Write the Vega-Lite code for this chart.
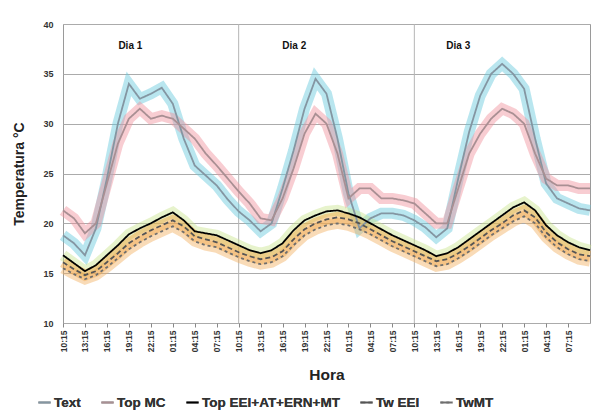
{
  "$schema": "https://vega.github.io/schema/vega-lite/v6.json",
  "width": 527,
  "height": 299,
  "autosize": {"type": "none"},
  "padding": {"left": 63, "top": 24, "right": 5, "bottom": 89},
  "background": "white",
  "config": {
    "font": "Liberation Sans",
    "view": {"stroke": "#9a9a9a", "strokeWidth": 1},
    "axis": {"labelFont": "Liberation Sans", "titleFont": "Liberation Sans", "labelFontWeight": "bold", "titleFontWeight": "bold", "labelColor": "#333", "titleColor": "#222", "domain": false, "tickColor": "#888"},
    "axisX": {"labelOverlap": false, "labelFlush": false},
    "legend": {"labelFont": "Liberation Sans", "labelFontWeight": "bold", "labelFontSize": 13.5, "labelColor": "#333", "orient": "none", "legendX": -26, "legendY": 371, "direction": "horizontal", "columns": 5, "symbolType": "stroke", "symbolStrokeWidth": 2, "symbolSize": 150, "columnPadding": 16, "labelOffset": 2}
  },
  "resolve": {"scale": {"color": "independent"}, "legend": {"color": "independent"}},
  "datasets": {
    "temps": [
      {"s":"Text","t":0,"v":18.8},{"s":"Text","t":1.5,"v":18.0},{"s":"Text","t":3,"v":16.8},{"s":"Text","t":4.5,"v":19.5},{"s":"Text","t":6,"v":24.5},{"s":"Text","t":7.5,"v":30.0},{"s":"Text","t":9,"v":34.0},{"s":"Text","t":10.5,"v":32.5},{"s":"Text","t":12,"v":33.0},{"s":"Text","t":13.5,"v":33.6},{"s":"Text","t":15,"v":32.0},{"s":"Text","t":16.5,"v":28.5},{"s":"Text","t":18,"v":25.8},{"s":"Text","t":19.5,"v":24.8},{"s":"Text","t":21,"v":23.8},{"s":"Text","t":22.5,"v":22.4},{"s":"Text","t":24,"v":21.2},{"s":"Text","t":25.5,"v":20.3},{"s":"Text","t":27,"v":19.2},{"s":"Text","t":28.5,"v":20.0},{"s":"Text","t":30,"v":23.5},{"s":"Text","t":31.5,"v":27.3},{"s":"Text","t":33,"v":31.5},{"s":"Text","t":34.5,"v":34.5},{"s":"Text","t":36,"v":33.0},{"s":"Text","t":37.5,"v":28.5},{"s":"Text","t":39,"v":23.0},{"s":"Text","t":40.5,"v":19.5},{"s":"Text","t":42,"v":20.5},{"s":"Text","t":43.5,"v":21.0},{"s":"Text","t":45,"v":21.0},{"s":"Text","t":46.5,"v":20.8},{"s":"Text","t":48,"v":20.3},{"s":"Text","t":49.5,"v":19.6},{"s":"Text","t":51,"v":18.6},{"s":"Text","t":52.5,"v":19.5},{"s":"Text","t":54,"v":24.5},{"s":"Text","t":55.5,"v":29.2},{"s":"Text","t":57,"v":32.8},{"s":"Text","t":58.5,"v":35.0},{"s":"Text","t":60,"v":36.0},{"s":"Text","t":61.5,"v":35.0},{"s":"Text","t":63,"v":33.5},{"s":"Text","t":64.5,"v":28.5},{"s":"Text","t":66,"v":24.0},{"s":"Text","t":67.5,"v":22.5},{"s":"Text","t":69,"v":22.0},{"s":"Text","t":70.5,"v":21.5},{"s":"Text","t":72,"v":21.3},
      {"s":"Top MC","t":0,"v":21.3},{"s":"Top MC","t":1.5,"v":20.5},{"s":"Top MC","t":3,"v":19.0},{"s":"Top MC","t":4.5,"v":20.0},{"s":"Top MC","t":6,"v":24.0},{"s":"Top MC","t":7.5,"v":28.0},{"s":"Top MC","t":9,"v":30.5},{"s":"Top MC","t":10.5,"v":31.5},{"s":"Top MC","t":12,"v":30.5},{"s":"Top MC","t":13.5,"v":30.8},{"s":"Top MC","t":15,"v":30.5},{"s":"Top MC","t":16.5,"v":29.5},{"s":"Top MC","t":18,"v":28.5},{"s":"Top MC","t":19.5,"v":27.0},{"s":"Top MC","t":21,"v":25.8},{"s":"Top MC","t":22.5,"v":24.5},{"s":"Top MC","t":24,"v":23.2},{"s":"Top MC","t":25.5,"v":22.0},{"s":"Top MC","t":27,"v":20.5},{"s":"Top MC","t":28.5,"v":20.3},{"s":"Top MC","t":30,"v":22.5},{"s":"Top MC","t":31.5,"v":25.5},{"s":"Top MC","t":33,"v":29.0},{"s":"Top MC","t":34.5,"v":31.0},{"s":"Top MC","t":36,"v":30.0},{"s":"Top MC","t":37.5,"v":27.0},{"s":"Top MC","t":39,"v":22.5},{"s":"Top MC","t":40.5,"v":23.5},{"s":"Top MC","t":42,"v":23.5},{"s":"Top MC","t":43.5,"v":22.5},{"s":"Top MC","t":45,"v":22.5},{"s":"Top MC","t":46.5,"v":22.3},{"s":"Top MC","t":48,"v":22.0},{"s":"Top MC","t":49.5,"v":21.0},{"s":"Top MC","t":51,"v":20.0},{"s":"Top MC","t":52.5,"v":20.0},{"s":"Top MC","t":54,"v":23.5},{"s":"Top MC","t":55.5,"v":27.0},{"s":"Top MC","t":57,"v":29.0},{"s":"Top MC","t":58.5,"v":30.5},{"s":"Top MC","t":60,"v":31.5},{"s":"Top MC","t":61.5,"v":31.0},{"s":"Top MC","t":63,"v":30.0},{"s":"Top MC","t":64.5,"v":27.0},{"s":"Top MC","t":66,"v":24.5},{"s":"Top MC","t":67.5,"v":23.8},{"s":"Top MC","t":69,"v":23.8},{"s":"Top MC","t":70.5,"v":23.5},{"s":"Top MC","t":72,"v":23.5},
      {"s":"Top EEI+AT+ERN+MT","t":0,"v":16.8},{"s":"Top EEI+AT+ERN+MT","t":1.5,"v":16.0},{"s":"Top EEI+AT+ERN+MT","t":3,"v":15.2},{"s":"Top EEI+AT+ERN+MT","t":4.5,"v":15.8},{"s":"Top EEI+AT+ERN+MT","t":6,"v":16.8},{"s":"Top EEI+AT+ERN+MT","t":7.5,"v":17.8},{"s":"Top EEI+AT+ERN+MT","t":9,"v":18.9},{"s":"Top EEI+AT+ERN+MT","t":10.5,"v":19.5},{"s":"Top EEI+AT+ERN+MT","t":12,"v":20.0},{"s":"Top EEI+AT+ERN+MT","t":13.5,"v":20.6},{"s":"Top EEI+AT+ERN+MT","t":15,"v":21.1},{"s":"Top EEI+AT+ERN+MT","t":16.5,"v":20.3},{"s":"Top EEI+AT+ERN+MT","t":18,"v":19.2},{"s":"Top EEI+AT+ERN+MT","t":19.5,"v":19.0},{"s":"Top EEI+AT+ERN+MT","t":21,"v":18.8},{"s":"Top EEI+AT+ERN+MT","t":22.5,"v":18.3},{"s":"Top EEI+AT+ERN+MT","t":24,"v":17.8},{"s":"Top EEI+AT+ERN+MT","t":25.5,"v":17.3},{"s":"Top EEI+AT+ERN+MT","t":27,"v":17.0},{"s":"Top EEI+AT+ERN+MT","t":28.5,"v":17.3},{"s":"Top EEI+AT+ERN+MT","t":30,"v":18.0},{"s":"Top EEI+AT+ERN+MT","t":31.5,"v":19.3},{"s":"Top EEI+AT+ERN+MT","t":33,"v":20.3},{"s":"Top EEI+AT+ERN+MT","t":34.5,"v":20.8},{"s":"Top EEI+AT+ERN+MT","t":36,"v":21.2},{"s":"Top EEI+AT+ERN+MT","t":37.5,"v":21.3},{"s":"Top EEI+AT+ERN+MT","t":39,"v":21.0},{"s":"Top EEI+AT+ERN+MT","t":40.5,"v":20.6},{"s":"Top EEI+AT+ERN+MT","t":42,"v":20.0},{"s":"Top EEI+AT+ERN+MT","t":43.5,"v":19.4},{"s":"Top EEI+AT+ERN+MT","t":45,"v":18.8},{"s":"Top EEI+AT+ERN+MT","t":46.5,"v":18.3},{"s":"Top EEI+AT+ERN+MT","t":48,"v":17.8},{"s":"Top EEI+AT+ERN+MT","t":49.5,"v":17.3},{"s":"Top EEI+AT+ERN+MT","t":51,"v":16.7},{"s":"Top EEI+AT+ERN+MT","t":52.5,"v":17.0},{"s":"Top EEI+AT+ERN+MT","t":54,"v":17.6},{"s":"Top EEI+AT+ERN+MT","t":55.5,"v":18.4},{"s":"Top EEI+AT+ERN+MT","t":57,"v":19.2},{"s":"Top EEI+AT+ERN+MT","t":58.5,"v":20.0},{"s":"Top EEI+AT+ERN+MT","t":60,"v":20.8},{"s":"Top EEI+AT+ERN+MT","t":61.5,"v":21.6},{"s":"Top EEI+AT+ERN+MT","t":63,"v":22.1},{"s":"Top EEI+AT+ERN+MT","t":64.5,"v":21.3},{"s":"Top EEI+AT+ERN+MT","t":66,"v":19.8},{"s":"Top EEI+AT+ERN+MT","t":67.5,"v":18.8},{"s":"Top EEI+AT+ERN+MT","t":69,"v":18.1},{"s":"Top EEI+AT+ERN+MT","t":70.5,"v":17.6},{"s":"Top EEI+AT+ERN+MT","t":72,"v":17.3},
      {"s":"Tw EEI","t":0,"v":16.1},{"s":"Tw EEI","t":1.5,"v":15.4},{"s":"Tw EEI","t":3,"v":14.8},{"s":"Tw EEI","t":4.5,"v":15.2},{"s":"Tw EEI","t":6,"v":16.1},{"s":"Tw EEI","t":7.5,"v":17.0},{"s":"Tw EEI","t":9,"v":18.0},{"s":"Tw EEI","t":10.5,"v":18.7},{"s":"Tw EEI","t":12,"v":19.3},{"s":"Tw EEI","t":13.5,"v":19.8},{"s":"Tw EEI","t":15,"v":20.3},{"s":"Tw EEI","t":16.5,"v":19.7},{"s":"Tw EEI","t":18,"v":18.7},{"s":"Tw EEI","t":19.5,"v":18.4},{"s":"Tw EEI","t":21,"v":18.1},{"s":"Tw EEI","t":22.5,"v":17.6},{"s":"Tw EEI","t":24,"v":17.1},{"s":"Tw EEI","t":25.5,"v":16.7},{"s":"Tw EEI","t":27,"v":16.4},{"s":"Tw EEI","t":28.5,"v":16.6},{"s":"Tw EEI","t":30,"v":17.2},{"s":"Tw EEI","t":31.5,"v":18.4},{"s":"Tw EEI","t":33,"v":19.4},{"s":"Tw EEI","t":34.5,"v":20.0},{"s":"Tw EEI","t":36,"v":20.4},{"s":"Tw EEI","t":37.5,"v":20.6},{"s":"Tw EEI","t":39,"v":20.4},{"s":"Tw EEI","t":40.5,"v":20.0},{"s":"Tw EEI","t":42,"v":19.4},{"s":"Tw EEI","t":43.5,"v":18.8},{"s":"Tw EEI","t":45,"v":18.2},{"s":"Tw EEI","t":46.5,"v":17.7},{"s":"Tw EEI","t":48,"v":17.2},{"s":"Tw EEI","t":49.5,"v":16.7},{"s":"Tw EEI","t":51,"v":16.2},{"s":"Tw EEI","t":52.5,"v":16.4},{"s":"Tw EEI","t":54,"v":17.0},{"s":"Tw EEI","t":55.5,"v":17.7},{"s":"Tw EEI","t":57,"v":18.5},{"s":"Tw EEI","t":58.5,"v":19.3},{"s":"Tw EEI","t":60,"v":20.0},{"s":"Tw EEI","t":61.5,"v":20.8},{"s":"Tw EEI","t":63,"v":21.3},{"s":"Tw EEI","t":64.5,"v":20.6},{"s":"Tw EEI","t":66,"v":19.1},{"s":"Tw EEI","t":67.5,"v":18.1},{"s":"Tw EEI","t":69,"v":17.4},{"s":"Tw EEI","t":70.5,"v":16.9},{"s":"Tw EEI","t":72,"v":16.7},
      {"s":"TwMT","t":0,"v":15.5},{"s":"TwMT","t":1.5,"v":14.9},{"s":"TwMT","t":3,"v":14.4},{"s":"TwMT","t":4.5,"v":14.8},{"s":"TwMT","t":6,"v":15.6},{"s":"TwMT","t":7.5,"v":16.5},{"s":"TwMT","t":9,"v":17.4},{"s":"TwMT","t":10.5,"v":18.1},{"s":"TwMT","t":12,"v":18.7},{"s":"TwMT","t":13.5,"v":19.2},{"s":"TwMT","t":15,"v":19.7},{"s":"TwMT","t":16.5,"v":19.1},{"s":"TwMT","t":18,"v":18.2},{"s":"TwMT","t":19.5,"v":17.8},{"s":"TwMT","t":21,"v":17.6},{"s":"TwMT","t":22.5,"v":17.1},{"s":"TwMT","t":24,"v":16.6},{"s":"TwMT","t":25.5,"v":16.2},{"s":"TwMT","t":27,"v":15.9},{"s":"TwMT","t":28.5,"v":16.1},{"s":"TwMT","t":30,"v":16.7},{"s":"TwMT","t":31.5,"v":17.8},{"s":"TwMT","t":33,"v":18.8},{"s":"TwMT","t":34.5,"v":19.4},{"s":"TwMT","t":36,"v":19.8},{"s":"TwMT","t":37.5,"v":20.0},{"s":"TwMT","t":39,"v":19.8},{"s":"TwMT","t":40.5,"v":19.4},{"s":"TwMT","t":42,"v":18.9},{"s":"TwMT","t":43.5,"v":18.3},{"s":"TwMT","t":45,"v":17.7},{"s":"TwMT","t":46.5,"v":17.2},{"s":"TwMT","t":48,"v":16.7},{"s":"TwMT","t":49.5,"v":16.2},{"s":"TwMT","t":51,"v":15.7},{"s":"TwMT","t":52.5,"v":15.9},{"s":"TwMT","t":54,"v":16.5},{"s":"TwMT","t":55.5,"v":17.2},{"s":"TwMT","t":57,"v":18.0},{"s":"TwMT","t":58.5,"v":18.8},{"s":"TwMT","t":60,"v":19.5},{"s":"TwMT","t":61.5,"v":20.2},{"s":"TwMT","t":63,"v":20.7},{"s":"TwMT","t":64.5,"v":20.0},{"s":"TwMT","t":66,"v":18.6},{"s":"TwMT","t":67.5,"v":17.6},{"s":"TwMT","t":69,"v":16.9},{"s":"TwMT","t":70.5,"v":16.4},{"s":"TwMT","t":72,"v":16.2}
    ],
    "days": [{"t": 24}, {"t": 48}],
    "labels": [
      {"lab": "Dia 1", "t": 9.2, "y": 37.8},
      {"lab": "Dia 2", "t": 31.6, "y": 37.8},
      {"lab": "Dia 3", "t": 54.0, "y": 37.8}
    ]
  },
  "encoding": {
    "x": {"field": "t", "type": "quantitative", "scale": {"domain": [0, 72], "nice": false, "zero": false},
      "title": "Hora",
      "axis": {"values": [0,3,6,9,12,15,18,21,24,27,30,33,36,39,42,45,48,51,54,57,60,63,66,69],
        "labelExpr": "((((datum.value+10)%24)<10)?'0':'')+((datum.value+10)%24)+':15'",
        "labelAngle": 270, "labelAlign": "right", "labelBaseline": "middle", "labelFontSize": 8.5, "labelOverlap": false,
        "grid": false, "tickSize": 4, "labelPadding": 3, "titleFontSize": 15.5, "titlePadding": 16}}
  },
  "layer": [
    {
      "data": {"name": "days"},
      "mark": {"type": "rule", "color": "#b5b5b5", "strokeWidth": 1},
      "encoding": {}
    },
    {
      "data": {"name": "temps"},
      "mark": {"type": "line", "strokeWidth": 11, "opacity": 0.45, "interpolate": "linear"},
      "encoding": {
        "y": {"field": "v", "type": "quantitative", "scale": {"domain": [10, 40], "nice": false},
          "title": "Temperatura °C",
          "axis": {"values": [10,15,20,25,30,35,40], "grid": true, "gridColor": "#ababab", "gridWidth": 1.2, "ticks": false, "labelFontSize": 9, "labelPadding": 10, "titleFontSize": 14, "titlePadding": 16}},
        "color": {"field": "s", "type": "nominal", "legend": null,
          "scale": {"domain": ["Text", "Top MC", "Top EEI+AT+ERN+MT", "Tw EEI", "TwMT"],
            "range": ["#63c7dc", "#f0909c", "#c9e58f", "#f0a035", "#f2b060"]}}
      }
    },
    {
      "data": {"name": "temps"},
      "mark": {"type": "line", "interpolate": "linear"},
      "encoding": {
        "y": {"field": "v", "type": "quantitative"},
        "color": {"field": "s", "type": "nominal", "title": null,
          "scale": {"domain": ["Text", "Top MC", "Top EEI+AT+ERN+MT", "Tw EEI", "TwMT"],
            "range": ["#8496a2", "#a98f93", "#000000", "#555555", "#6e6e6e"]}},
        "strokeDash": {"field": "s", "type": "nominal", "title": null,
          "scale": {"domain": ["Text", "Top MC", "Top EEI+AT+ERN+MT", "Tw EEI", "TwMT"],
            "range": [[1, 0], [1, 0], [1, 0], [5, 3], [3, 3]]}},
        "strokeWidth": {"field": "s", "type": "nominal", "title": null,
          "scale": {"domain": ["Text", "Top MC", "Top EEI+AT+ERN+MT", "Tw EEI", "TwMT"],
            "range": [1.8, 1.8, 2.6, 1.6, 1.6]}}
      }
    },
    {
      "data": {"name": "labels"},
      "mark": {"type": "text", "font": "Liberation Sans", "fontWeight": "bold", "fontSize": 10, "color": "#111"},
      "encoding": {
        "y": {"field": "y", "type": "quantitative"},
        "text": {"field": "lab"}
      }
    }
  ]
}
